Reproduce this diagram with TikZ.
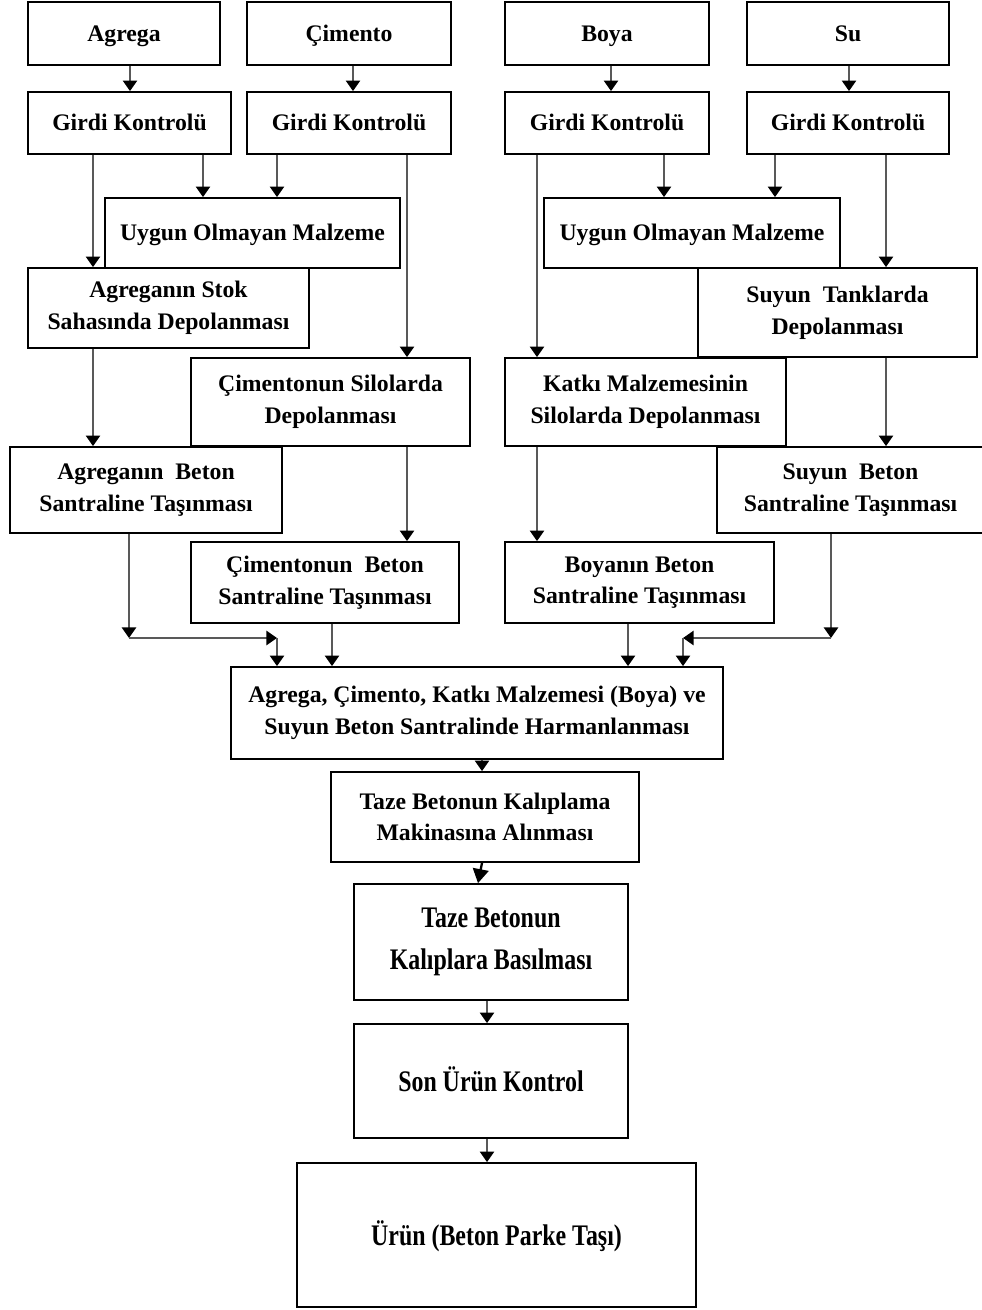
\documentclass[tikz,border=0pt]{standalone}
\usepackage{fontspec}
\setmainfont{Liberation Serif}
\newfontfamily\narrowfont[FakeStretch=0.8]{Liberation Serif}
\usetikzlibrary{arrows.meta}

\begin{document}
\begin{tikzpicture}[x=0.02cm,y=-0.02cm,
  box/.style={draw,line width=1pt,fill=white,inner sep=0pt,align=center,
    font=\bfseries\fontsize{13.5}{18}\selectfont},
  bigbox/.style={box,font=\narrowfont\bfseries\fontsize{17}{24}\selectfont},
  oneline/.style={text height=12pt,text depth=3pt},
  bigline/.style={text height=15pt,text depth=3.5pt},
  bw/.style={minimum width=#1*0.02cm},
  bh/.style={minimum height=#1*0.02cm},
  conn/.style={draw=black!65,line width=1.3pt,
    -{Triangle[length=6pt,width=8pt,color=black]}}]
\useasboundingbox (0,0) rectangle (982,1310);
\node[box,oneline,bw=192,bh=63] (agrega) at (124,33.5) {Agrega};
\node[box,oneline,bw=204,bh=63] (cimento) at (349,33.5) {Çimento};
\node[box,oneline,bw=204,bh=63] (boya) at (607,33.5) {Boya};
\node[box,oneline,bw=202,bh=63] (su) at (848,33.5) {Su};
\node[box,oneline,bw=203,bh=62] (gk1) at (129.5,123) {Girdi Kontrolü};
\node[box,oneline,bw=204,bh=62] (gk2) at (349,123) {Girdi Kontrolü};
\node[box,oneline,bw=204,bh=62] (gk3) at (607,123) {Girdi Kontrolü};
\node[box,oneline,bw=202,bh=62] (gk4) at (848,123) {Girdi Kontrolü};
\node[box,oneline,bw=295,bh=70] (uyg1) at (252.5,233) {Uygun Olmayan Malzeme};
\node[box,oneline,bw=296,bh=70] (uyg2) at (692,233) {Uygun Olmayan Malzeme};
\node[box,bw=281,bh=80] (agstok) at (168.5,308) {Agreganın Stok\\Sahasında Depolanması};
\node[box,bw=279,bh=89] (sutank) at (837.5,312.5) {Suyun\ \ Tanklarda\\Depolanması};
\node[box,bw=279,bh=88] (cimsilo) at (330.5,402) {Çimentonun Silolarda\\Depolanması};
\node[box,bw=281,bh=88] (katki) at (645.5,402) {Katkı Malzemesinin\\Silolarda Depolanması};
\node[box,bw=272,bh=86] (agbeton) at (146,490) {Agreganın\ \ Beton\\Santraline Taşınması};
\node[box,bw=267,bh=86] (subeton) at (850.5,490) {Suyun\ \ Beton\\Santraline Taşınması};
\node[box,bw=268,bh=81] (cimbeton) at (325,582.5) {Çimentonun\ \ Beton\\Santraline Taşınması};
\node[box,bw=269,bh=81] (boyabeton) at (639.5,582.5) {Boyanın Beton\\Santraline Taşınması};
\node[box,bw=492,bh=92] (harman) at (477,713) {Agrega, Çimento, Katkı Malzemesi (Boya) ve\\Suyun Beton Santralinde Harmanlanması};
\node[box,bw=308,bh=90] (kalip) at (485,817) {Taze Betonun Kalıplama\\Makinasına Alınması};
\node[bigbox,bw=274,bh=116] (basma) at (491,942) {Taze Betonun\\Kalıplara Basılması};
\node[bigbox,bigline,bw=274,bh=114] (kontrol) at (491,1081) {Son Ürün Kontrol};
\node[bigbox,bigline,bw=399,bh=144] (urun) at (496.5,1235) {Ürün (Beton Parke Taşı)};
\coordinate (c1) at (129,638);
\coordinate (c2) at (277,638);
\coordinate (c3) at (831,638);
\coordinate (c4) at (683,638);
\draw[conn] (agrega.south -| 130,0) -- (gk1.north -| 130,0);
\draw[conn] (cimento.south -| 353,0) -- (gk2.north -| 353,0);
\draw[conn] (boya.south -| 611,0) -- (gk3.north -| 611,0);
\draw[conn] (su.south -| 849,0) -- (gk4.north -| 849,0);
\draw[conn] (gk1.south -| 203,0) -- (uyg1.north -| 203,0);
\draw[conn] (gk2.south -| 277,0) -- (uyg1.north -| 277,0);
\draw[conn] (gk1.south -| 93,0) -- (agstok.north -| 93,0);
\draw[conn] (gk2.south -| 407,0) -- (cimsilo.north -| 407,0);
\draw[conn] (gk3.south -| 664,0) -- (uyg2.north -| 664,0);
\draw[conn] (gk4.south -| 775,0) -- (uyg2.north -| 775,0);
\draw[conn] (gk3.south -| 537,0) -- (katki.north -| 537,0);
\draw[conn] (gk4.south -| 886,0) -- (sutank.north -| 886,0);
\draw[conn] (agstok.south -| 93,0) -- (agbeton.north -| 93,0);
\draw[conn] (cimsilo.south -| 407,0) -- (cimbeton.north -| 407,0);
\draw[conn] (katki.south -| 537,0) -- (boyabeton.north -| 537,0);
\draw[conn] (sutank.south -| 886,0) -- (subeton.north -| 886,0);
\draw[conn] (agbeton.south -| c1) -- (c1);
\draw[conn] (c1) -- (c2);
\draw[conn] (c2) -- (harman.north -| c2);
\draw[conn] (cimbeton.south -| 332,0) -- (harman.north -| 332,0);
\draw[conn] (boyabeton.south -| 628,0) -- (harman.north -| 628,0);
\draw[conn] (subeton.south -| c3) -- (c3);
\draw[conn] (c3) -- (c4);
\draw[conn] (c4) -- (harman.north -| c4);
\draw[conn] (harman.south -| 482,0) -- (kalip.north -| 482,0);
\draw[conn,draw=black,-{Triangle[length=8pt,width=9pt]}] (kalip.south -| 482,0) -- (basma.north -| 478,0);
\draw[conn] (basma.south -| 487,0) -- (kontrol.north -| 487,0);
\draw[conn] (kontrol.south -| 487,0) -- (urun.north -| 487,0);
\end{tikzpicture}
\end{document}
